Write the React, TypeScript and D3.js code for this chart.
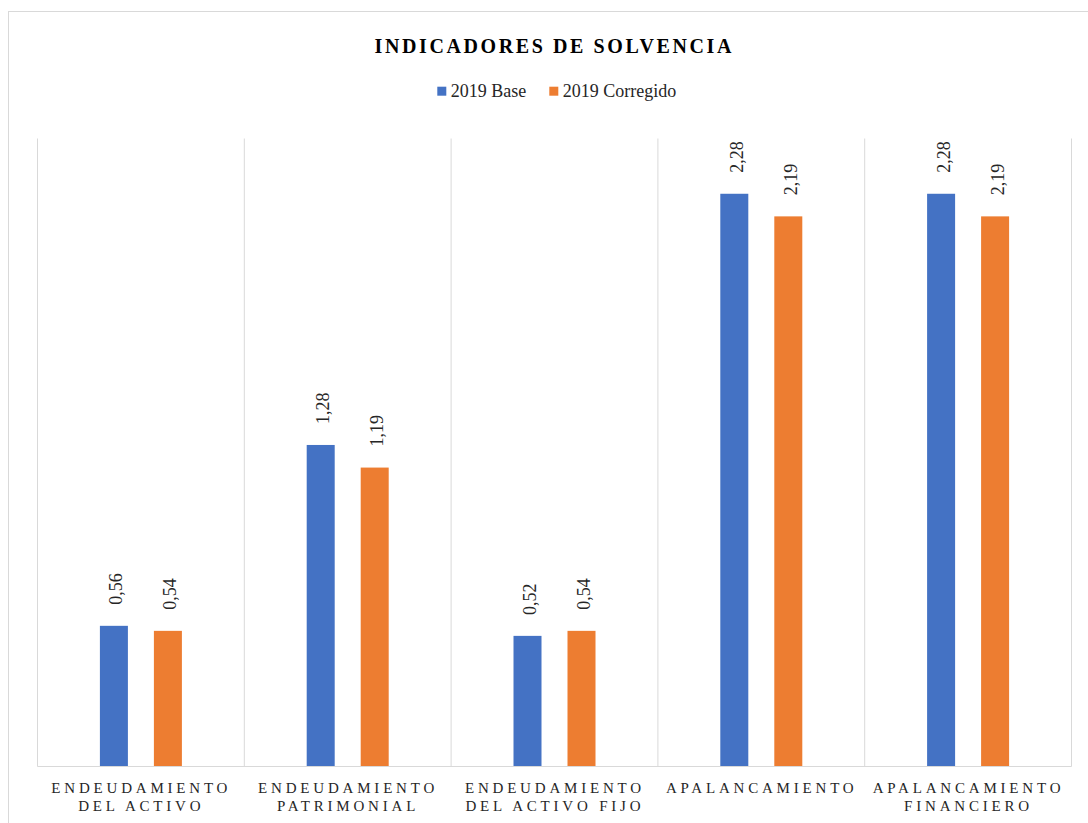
import React from "react";
import * as d3 from "d3";

const categories: string[][] = [
  ["ENDEUDAMIENTO", "DEL ACTIVO"],
  ["ENDEUDAMIENTO", "PATRIMONIAL"],
  ["ENDEUDAMIENTO", "DEL ACTIVO FIJO"],
  ["APALANCAMIENTO"],
  ["APALANCAMIENTO", "FINANCIERO"],
];
const seriesNames = ["2019 Base", "2019 Corregido"];
const base2019 = [0.56, 1.28, 0.52, 2.28, 2.28];
const corregido2019 = [0.54, 1.19, 0.54, 2.19, 2.19];
const seriesColors = ["#4472C4", "#ED7D31"];

const W = 1088;
const H = 823;
const FONT = "Liberation Serif, DejaVu Serif, serif";

export default function App() {
  const left = 37.5;
  const right = 1071.5;
  const top = 138.5;
  const bottom = 766.5;

  const x0 = d3
    .scaleBand<number>()
    .domain(categories.map((_, i) => i))
    .range([left, right])
    .padding(0);
  const bw = x0.bandwidth();
  const x1 = d3
    .scaleBand<number>()
    .domain([0, 1])
    .range([bw / 2 - 41, bw / 2 + 41])
    .paddingInner(26 / 54)
    .paddingOuter(0);
  const y = d3.scaleLinear().domain([0, 2.5]).range([bottom, top]);

  const series = [base2019, corregido2019];
  const fmt = (v: number) => v.toFixed(2).replace(".", ",");

  const gridXs = [...categories.map((_, i) => x0(i)!), right];

  const titleLS = 2.6;
  const catLS = 3.8;

  return (
    <svg
      width={W}
      height={H}
      style={{ position: "absolute", left: 0, top: 0, display: "block", background: "#fff" }}
    >
      <rect x={0} y={0} width={W} height={H} fill="#fff" />
      <rect x={8.5} y={11.5} width={W + 20} height={H + 20} fill="none" stroke="#d9d9d9" strokeWidth={1} />

      <text
        x={553 + titleLS / 2}
        y={53}
        textAnchor="middle"
        fontFamily={FONT}
        fontWeight="bold"
        fontSize={20}
        fill="#000"
        style={{ letterSpacing: `${titleLS}px` }}
      >
        INDICADORES DE SOLVENCIA
      </text>

      <g fontFamily={FONT} fontSize={18} fill="#262626">
        {seriesNames.map((s, i) => {
          const sx = 437.3 + i * 112;
          return (
            <g key={s}>
              <rect x={sx} y={86.7} width={9} height={9} fill={seriesColors[i]} />
              <text x={sx + 13.4} y={96.7}>
                {s}
              </text>
            </g>
          );
        })}
      </g>

      {gridXs.map((gx, i) => (
        <line key={i} x1={gx} x2={gx} y1={top} y2={bottom} stroke="#d9d9d9" strokeWidth={1} />
      ))}

      {categories.map((_, ci) =>
        series.map((vals, si) => {
          const bx = x0(ci)! + x1(si)!;
          const v = vals[ci];
          const by = y(v);
          return (
            <g key={`${ci}-${si}`}>
              <rect x={bx} y={by} width={x1.bandwidth()} height={bottom - by} fill={seriesColors[si]} />
              <text
                transform={`translate(${bx + x1.bandwidth() / 2 + 8.5},${by - 21}) rotate(-90)`}
                fontFamily={FONT}
                fontSize={18}
                fill="#262626"
                textAnchor="start"
              >
                {fmt(v)}
              </text>
            </g>
          );
        })
      )}

      <line x1={left} x2={right} y1={bottom} y2={bottom} stroke="#d9d9d9" strokeWidth={1} />

      <g fontFamily={FONT} fontSize={15} fill="#262626" textAnchor="middle">
        {categories.map((lines, ci) => (
          <text
            key={ci}
            x={x0(ci)! + bw / 2 + catLS / 2 - 1.5}
            y={792.7}
            style={{ letterSpacing: `${catLS}px` }}
          >
            {lines.map((ln, li) => (
              <tspan key={li} x={x0(ci)! + bw / 2 + catLS / 2 - 1.5} dy={li === 0 ? 0 : 18.3}>
                {ln}
              </tspan>
            ))}
          </text>
        ))}
      </g>
    </svg>
  );
}
